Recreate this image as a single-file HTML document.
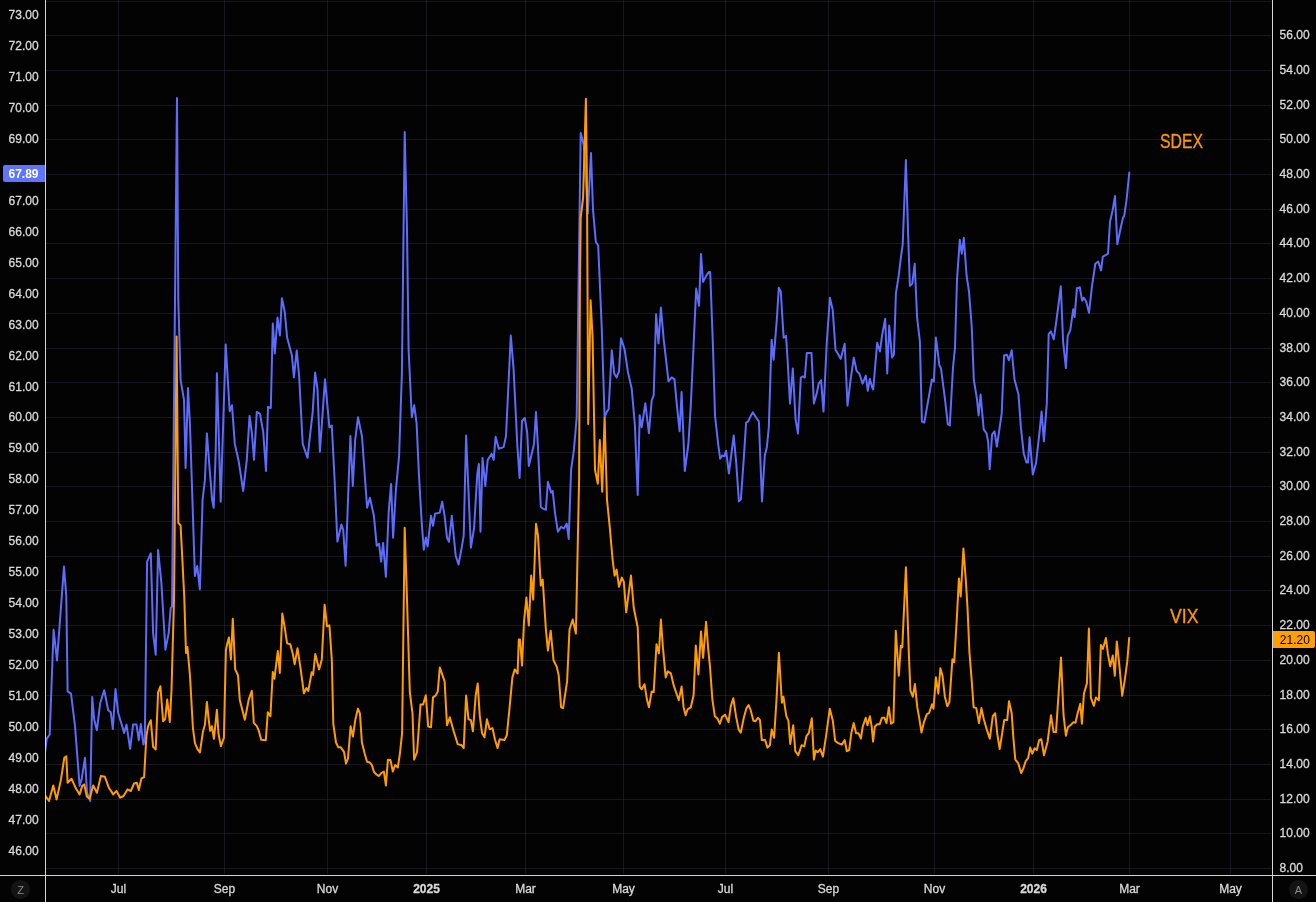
<!DOCTYPE html>
<html><head><meta charset="utf-8"><title>SDEX vs VIX</title>
<style>html,body{margin:0;padding:0;background:#030303;overflow:hidden;}svg{display:block;}</style>
</head><body>
<svg width="1316" height="902" viewBox="0 0 1316 902"><rect x="0" y="0" width="1316" height="902" fill="#030303"/>
<line x1="46" y1="868.5" x2="1271" y2="868.5" stroke="rgba(42,46,57,0.5)" stroke-width="1"/>
<line x1="46" y1="833.5" x2="1271" y2="833.5" stroke="rgba(42,46,57,0.5)" stroke-width="1"/>
<line x1="46" y1="799.5" x2="1271" y2="799.5" stroke="rgba(42,46,57,0.5)" stroke-width="1"/>
<line x1="46" y1="764.5" x2="1271" y2="764.5" stroke="rgba(42,46,57,0.5)" stroke-width="1"/>
<line x1="46" y1="729.5" x2="1271" y2="729.5" stroke="rgba(42,46,57,0.5)" stroke-width="1"/>
<line x1="46" y1="695.5" x2="1271" y2="695.5" stroke="rgba(42,46,57,0.5)" stroke-width="1"/>
<line x1="46" y1="660.5" x2="1271" y2="660.5" stroke="rgba(42,46,57,0.5)" stroke-width="1"/>
<line x1="46" y1="625.5" x2="1271" y2="625.5" stroke="rgba(42,46,57,0.5)" stroke-width="1"/>
<line x1="46" y1="590.5" x2="1271" y2="590.5" stroke="rgba(42,46,57,0.5)" stroke-width="1"/>
<line x1="46" y1="556.5" x2="1271" y2="556.5" stroke="rgba(42,46,57,0.5)" stroke-width="1"/>
<line x1="46" y1="521.5" x2="1271" y2="521.5" stroke="rgba(42,46,57,0.5)" stroke-width="1"/>
<line x1="46" y1="486.5" x2="1271" y2="486.5" stroke="rgba(42,46,57,0.5)" stroke-width="1"/>
<line x1="46" y1="452.5" x2="1271" y2="452.5" stroke="rgba(42,46,57,0.5)" stroke-width="1"/>
<line x1="46" y1="417.5" x2="1271" y2="417.5" stroke="rgba(42,46,57,0.5)" stroke-width="1"/>
<line x1="46" y1="382.5" x2="1271" y2="382.5" stroke="rgba(42,46,57,0.5)" stroke-width="1"/>
<line x1="46" y1="348.5" x2="1271" y2="348.5" stroke="rgba(42,46,57,0.5)" stroke-width="1"/>
<line x1="46" y1="313.5" x2="1271" y2="313.5" stroke="rgba(42,46,57,0.5)" stroke-width="1"/>
<line x1="46" y1="278.5" x2="1271" y2="278.5" stroke="rgba(42,46,57,0.5)" stroke-width="1"/>
<line x1="46" y1="243.5" x2="1271" y2="243.5" stroke="rgba(42,46,57,0.5)" stroke-width="1"/>
<line x1="46" y1="209.5" x2="1271" y2="209.5" stroke="rgba(42,46,57,0.5)" stroke-width="1"/>
<line x1="46" y1="174.5" x2="1271" y2="174.5" stroke="rgba(42,46,57,0.5)" stroke-width="1"/>
<line x1="46" y1="139.5" x2="1271" y2="139.5" stroke="rgba(42,46,57,0.5)" stroke-width="1"/>
<line x1="46" y1="105.5" x2="1271" y2="105.5" stroke="rgba(42,46,57,0.5)" stroke-width="1"/>
<line x1="46" y1="70.5" x2="1271" y2="70.5" stroke="rgba(42,46,57,0.5)" stroke-width="1"/>
<line x1="46" y1="35.5" x2="1271" y2="35.5" stroke="rgba(42,46,57,0.5)" stroke-width="1"/>
<line x1="46" y1="1.5" x2="1271" y2="1.5" stroke="rgba(42,46,57,0.5)" stroke-width="1"/>
<line x1="118.5" y1="0" x2="118.5" y2="874" stroke="rgba(42,46,57,0.5)" stroke-width="1"/>
<line x1="224.5" y1="0" x2="224.5" y2="874" stroke="rgba(42,46,57,0.5)" stroke-width="1"/>
<line x1="327.5" y1="0" x2="327.5" y2="874" stroke="rgba(42,46,57,0.5)" stroke-width="1"/>
<line x1="426.5" y1="0" x2="426.5" y2="874" stroke="rgba(42,46,57,0.5)" stroke-width="1"/>
<line x1="525.5" y1="0" x2="525.5" y2="874" stroke="rgba(42,46,57,0.5)" stroke-width="1"/>
<line x1="623.5" y1="0" x2="623.5" y2="874" stroke="rgba(42,46,57,0.5)" stroke-width="1"/>
<line x1="725.5" y1="0" x2="725.5" y2="874" stroke="rgba(42,46,57,0.5)" stroke-width="1"/>
<line x1="828.5" y1="0" x2="828.5" y2="874" stroke="rgba(42,46,57,0.5)" stroke-width="1"/>
<line x1="934.5" y1="0" x2="934.5" y2="874" stroke="rgba(42,46,57,0.5)" stroke-width="1"/>
<line x1="1033.5" y1="0" x2="1033.5" y2="874" stroke="rgba(42,46,57,0.5)" stroke-width="1"/>
<line x1="1129.5" y1="0" x2="1129.5" y2="874" stroke="rgba(42,46,57,0.5)" stroke-width="1"/>
<line x1="1230.5" y1="0" x2="1230.5" y2="874" stroke="rgba(42,46,57,0.5)" stroke-width="1"/>
<polyline points="45.0,752.8 46.7,738.9 49.7,734.5 53.6,629.8 57.0,660.4 64.0,566.6 66.3,596.5 67.6,691.3 71.0,693.6 75.0,726.0 79.6,786.0 81.6,779.4 85.0,757.8 87.0,792.7 90.2,801.0 92.2,697.0 94.2,719.6 96.9,730.2 100.2,703.0 104.2,690.3 108.2,710.3 110.8,712.3 112.8,729.0 115.5,689.0 118.2,713.0 122.2,726.2 124.1,732.9 126.5,724.6 130.1,748.8 133.1,724.6 136.5,724.6 138.8,740.2 140.8,724.0 143.4,744.5 144.8,739.5 147.1,561.6 150.8,553.3 153.1,633.1 155.7,654.7 158.1,550.0 161.4,583.2 165.4,649.7 168.7,633.1 170.7,608.2 172.0,606.5 177.0,98.0 178.3,300.0 180.6,379.8 184.0,399.8 185.6,468.0 188.0,388.1 189.9,423.0 194.9,576.0 197.2,566.0 199.9,589.3 202.6,499.5 204.9,479.8 206.9,433.5 209.7,469.8 212.1,499.7 213.7,507.7 215.7,451.8 216.9,373.3 220.7,501.7 225.7,344.6 229.7,411.3 232.0,405.3 234.8,443.9 238.8,461.8 243.2,491.0 246.8,459.8 249.6,415.9 252.0,433.9 254.0,459.8 256.8,411.9 260.0,413.9 263.2,431.9 266.0,471.0 268.0,407.0 270.8,408.0 272.8,323.5 274.8,353.4 277.5,317.5 279.9,335.4 281.9,298.3 284.7,311.5 287.1,337.4 291.9,355.4 293.9,377.3 296.7,350.6 299.1,375.3 302.7,443.9 307.5,457.8 312.7,411.9 315.1,372.5 317.5,389.3 319.9,451.8 325.0,379.3 329.4,427.5 331.8,425.5 334.6,479.8 337.4,541.6 341.4,524.5 343.2,529.8 345.6,565.7 348.0,499.8 350.4,436.0 352.8,485.9 355.2,440.0 358.0,417.3 362.0,436.5 367.1,507.8 369.9,497.8 373.9,515.8 376.7,545.7 379.1,543.7 381.1,561.7 383.1,542.9 385.9,576.8 388.7,511.8 391.1,483.9 393.1,537.7 395.9,489.8 399.1,455.9 401.9,373.4 404.7,132.0 407.0,229.7 408.6,349.5 411.8,417.3 414.2,405.3 416.6,423.3 419.0,475.9 421.8,523.8 423.8,549.7 425.9,537.5 427.6,546.5 431.0,515.8 433.0,525.8 435.0,513.8 439.8,512.6 442.2,501.8 444.6,515.8 447.0,537.7 449.0,541.7 451.8,515.8 455.7,555.7 458.5,564.5 461.7,547.7 463.7,535.7 466.1,435.5 468.5,491.8 470.9,547.7 474.1,527.8 477.3,473.9 478.9,463.9 480.5,531.8 482.5,457.9 485.3,485.9 487.7,459.9 491.7,453.9 493.7,459.9 495.6,436.8 498.8,448.7 503.6,447.1 506.0,436.0 510.8,335.5 513.6,369.4 517.3,445.0 519.6,478.0 522.0,421.0 524.8,418.0 527.2,432.5 528.8,465.9 531.2,455.9 534.0,443.9 536.0,412.0 538.0,447.9 540.8,507.0 543.1,508.6 545.9,509.8 547.9,481.8 551.1,492.6 552.7,491.0 555.1,513.7 557.9,531.7 561.1,526.9 563.9,528.5 566.7,523.7 568.7,538.9 571.1,469.8 573.9,449.9 576.7,417.3 580.7,133.1 582.3,138.7 583.9,145.9 587.8,213.7 591.0,153.1 593.0,209.7 595.8,241.7 598.2,245.6 601.8,329.5 604.6,417.3 607.0,411.3 608.6,409.3 611.8,350.2 614.2,373.4 616.6,377.4 619.0,371.4 621.0,338.2 624.6,349.4 627.8,371.4 631.8,389.3 634.9,425.3 637.7,495.0 639.7,415.3 641.7,427.2 645.3,403.3 648.9,433.2 651.7,400.5 653.7,395.3 656.1,314.3 658.5,343.4 660.9,307.5 663.7,339.4 668.5,381.3 671.7,377.4 674.5,379.4 676.9,405.3 679.6,431.2 681.6,392.1 684.8,471.0 688.4,444.0 690.8,405.3 693.6,345.4 696.2,288.6 699.0,305.8 701.0,253.9 703.0,281.9 706.2,275.9 709.0,271.9 710.2,271.9 713.0,347.7 715.0,415.6 718.1,443.5 720.1,458.7 722.1,455.5 724.5,456.3 726.1,450.7 728.9,473.4 731.7,451.5 733.7,435.5 736.1,461.5 738.9,501.4 740.9,499.4 743.7,459.5 746.1,422.7 748.1,421.5 750.9,415.6 752.9,412.4 756.1,417.6 758.9,421.5 762.0,501.4 764.8,455.5 766.8,447.5 768.8,427.5 771.6,339.7 773.6,359.7 776.8,319.8 778.8,287.8 780.8,291.8 783.6,337.7 786.0,335.7 787.6,359.7 790.0,403.6 792.8,368.5 795.6,419.6 798.0,433.5 800.8,377.6 802.8,376.4 804.8,377.6 806.8,352.9 811.5,352.9 813.9,403.6 816.7,393.6 818.7,383.6 821.1,380.4 823.5,411.6 826.7,343.7 829.9,297.8 832.7,309.8 835.5,349.7 837.9,353.7 840.7,358.9 844.7,343.7 847.5,405.6 850.6,379.6 853.8,357.7 856.6,370.9 859.4,373.7 862.6,383.6 865.8,375.6 867.8,390.8 869.8,378.8 872.2,387.6 873.2,389.4 877.2,342.7 880.0,351.5 882.0,335.6 885.2,318.8 887.2,373.5 889.2,325.6 892.0,357.5 893.9,354.7 895.9,293.7 898.7,275.7 901.1,255.7 902.7,244.6 905.9,160.0 908.3,239.8 909.9,285.7 912.3,283.7 914.7,263.7 917.1,317.6 919.9,341.5 921.9,421.4 924.3,422.6 929.1,395.4 931.9,379.5 933.9,381.5 935.9,337.6 939.4,365.5 941.0,368.3 945.0,399.4 947.8,424.2 949.8,425.4 953.0,367.5 955.0,347.5 957.0,279.7 959.8,239.8 961.8,253.7 963.8,237.8 966.6,275.7 969.0,291.7 971.8,327.6 973.8,379.5 977.0,399.4 978.6,415.4 980.6,394.6 983.7,429.4 986.5,433.3 988.1,441.3 989.7,469.3 992.1,434.5 994.5,431.3 996.9,446.5 1001.7,413.4 1004.1,355.5 1006.9,354.7 1008.9,360.3 1011.7,350.3 1014.5,379.5 1018.5,394.6 1020.9,427.4 1023.7,453.3 1026.4,462.5 1028.0,462.5 1029.6,437.3 1032.8,474.4 1036.0,463.3 1039.6,431.3 1041.6,411.4 1043.9,441.3 1046.8,403.4 1048.7,334.0 1051.0,331.5 1053.8,339.3 1056.7,318.5 1060.8,286.3 1063.1,341.6 1065.9,368.1 1067.7,335.8 1070.3,330.1 1073.2,309.3 1074.6,317.1 1076.9,288.3 1079.8,287.4 1082.1,300.7 1083.8,297.8 1086.1,301.3 1089.0,312.8 1091.9,286.8 1095.3,263.8 1098.2,261.5 1101.1,270.4 1102.8,256.6 1105.7,255.1 1108.0,253.7 1110.0,222.0 1112.6,210.4 1115.0,196.0 1117.3,244.2 1120.7,227.7 1123.0,217.7 1124.2,216.2 1126.5,200.4 1129.3,172.6" fill="none" stroke="#5d6cfa" stroke-width="2" stroke-linejoin="round" stroke-linecap="round"/>
<polyline points="45.0,795.4 49.0,801.0 53.3,785.4 56.6,799.4 61.0,779.4 64.3,757.8 66.3,756.2 67.6,782.8 71.6,778.8 75.6,787.8 79.6,794.4 82.2,786.1 84.2,784.4 86.9,796.7 89.6,798.7 93.2,785.4 96.9,792.7 100.9,776.1 104.9,776.8 108.9,787.8 113.2,794.4 116.5,791.0 120.2,797.7 123.5,796.0 127.5,789.4 130.8,791.0 134.1,783.4 136.8,782.8 138.8,790.0 141.4,778.4 144.1,777.1 146.4,736.2 148.1,726.2 150.8,720.2 153.1,746.8 155.7,749.5 158.1,692.3 160.4,686.3 163.1,721.2 165.2,719.0 167.2,699.5 169.8,722.0 171.5,690.0 174.0,600.0 176.6,336.6 178.3,522.8 180.6,525.5 184.2,595.5 186.0,653.0 187.4,647.0 190.0,676.0 192.9,727.8 194.9,742.8 197.3,748.8 199.9,752.4 202.9,731.8 204.9,724.8 206.9,701.9 208.5,717.8 210.1,730.8 211.9,726.2 213.9,738.8 216.9,709.8 218.5,733.8 220.9,746.2 223.9,737.8 225.9,650.0 227.3,643.4 228.9,637.4 230.9,659.4 232.8,618.7 235.2,669.4 238.0,675.3 239.8,699.9 244.8,719.8 248.8,699.3 251.8,690.9 253.8,722.8 256.8,726.2 258.8,730.8 261.2,739.8 265.8,740.2 267.8,712.2 270.4,716.2 272.8,671.9 274.4,678.9 277.8,651.0 279.8,672.9 282.3,613.5 284.7,627.4 287.1,643.4 290.3,644.2 292.7,653.4 294.7,664.2 297.5,648.2 300.7,669.4 303.9,693.3 306.5,688.0 308.3,690.9 311.7,672.3 313.1,674.9 315.3,654.0 319.1,669.4 321.8,659.4 324.6,604.7 327.0,626.2 329.4,625.4 331.8,659.4 333.3,723.9 336.0,742.5 338.2,747.2 340.6,747.2 344.0,751.8 346.0,763.5 348.0,758.5 350.6,726.3 352.9,736.5 355.3,719.9 357.9,708.6 359.9,713.3 361.9,742.5 364.6,753.2 367.0,761.8 369.9,762.5 371.9,765.1 373.9,771.8 376.6,774.7 379.0,776.0 381.2,773.1 383.9,771.5 385.9,785.4 387.9,759.8 390.5,760.1 392.8,771.5 395.2,765.1 397.8,767.5 399.8,754.5 402.1,733.2 404.7,527.8 407.0,599.6 409.8,692.0 412.5,713.3 414.1,759.6 417.1,751.8 420.5,704.6 423.1,704.6 425.8,695.3 428.2,726.6 431.0,727.3 433.0,697.4 435.8,695.4 437.8,691.4 439.8,667.4 444.6,681.4 447.0,725.3 449.8,717.3 453.7,731.3 457.7,744.1 461.7,745.3 463.7,748.1 466.1,695.4 468.5,719.3 470.9,720.1 472.9,731.3 475.7,695.4 477.7,683.4 479.7,715.3 482.1,733.3 484.5,737.3 486.9,719.3 489.7,729.3 492.5,728.1 494.9,739.3 497.6,748.1 499.6,739.3 504.4,740.1 506.8,735.3 509.6,707.4 512.4,677.4 514.8,669.4 517.6,673.4 518.8,639.5 520.0,639.5 522.0,665.4 524.0,621.5 526.4,597.6 528.8,625.5 531.2,575.6 533.2,599.6 536.0,523.7 538.0,535.7 540.8,585.6 542.7,579.6 545.9,629.5 547.9,650.6 550.7,630.7 553.5,660.2 556.7,666.6 558.7,675.4 561.1,707.3 563.1,708.1 567.1,681.4 569.5,629.5 572.7,619.5 575.9,633.5 579.1,479.8 579.9,289.6 580.7,217.7 583.1,197.8 584.7,141.9 585.9,98.8 587.0,189.8 588.2,424.0 590.6,300.3 592.6,337.4 595.0,469.8 597.8,483.8 599.8,439.9 602.2,491.8 604.6,418.0 607.0,499.8 609.8,527.7 612.6,559.6 614.6,575.6 616.6,569.6 619.0,586.8 621.8,577.6 623.8,581.6 626.2,612.3 631.0,575.6 633.7,607.5 637.7,627.5 639.7,686.6 641.7,689.3 644.5,684.2 646.9,699.3 648.9,707.3 651.7,691.4 653.7,692.1 656.5,644.3 658.9,653.4 660.9,619.5 662.9,647.4 665.7,677.4 667.7,671.4 670.9,673.4 673.7,685.4 676.4,693.3 678.8,700.1 681.6,686.6 683.6,707.3 685.6,715.3 687.6,709.3 690.8,707.3 693.6,695.3 695.8,645.5 698.4,674.4 701.0,631.4 703.1,657.8 706.1,621.8 708.2,648.8 710.0,666.8 712.4,699.7 714.8,716.2 717.5,718.6 719.9,723.7 722.0,717.1 725.0,714.7 728.5,722.2 730.9,705.7 733.3,698.2 736.0,716.2 738.7,729.6 740.8,732.6 743.8,717.7 746.5,708.1 748.6,705.1 750.7,710.2 753.4,720.7 755.5,721.3 757.9,717.7 760.0,720.1 761.8,740.1 765.1,740.1 767.5,747.6 769.9,745.2 771.7,729.6 774.1,737.7 776.5,699.7 778.9,652.7 780.7,683.2 781.9,702.7 783.4,696.7 786.3,716.2 788.4,720.7 790.2,744.0 793.2,725.2 795.3,751.2 798.3,755.1 801.6,745.2 804.3,746.4 806.4,736.2 808.8,733.2 811.8,718.3 813.9,759.6 815.7,750.6 817.8,752.1 820.2,749.1 822.9,756.6 825.9,737.1 829.8,708.7 832.8,720.7 835.2,741.0 838.2,743.1 841.8,744.6 844.7,740.1 846.8,751.2 849.2,750.0 851.3,733.2 853.7,723.1 856.1,733.2 858.5,733.2 860.9,738.6 862.7,726.7 865.7,717.7 867.5,725.2 869.9,716.2 871.7,726.7 873.1,741.6 874.8,726.7 877.2,724.3 879.6,724.3 882.0,717.7 884.4,717.7 886.5,723.1 888.9,707.2 891.0,723.7 893.4,722.2 895.8,630.8 898.8,675.7 900.8,645.8 902.3,647.3 905.9,567.3 908.9,654.8 910.4,690.7 912.8,696.7 914.9,684.1 917.3,707.2 919.4,719.2 921.5,732.6 923.9,722.2 926.9,714.1 929.0,713.2 932.0,704.2 933.5,708.7 935.9,677.2 938.3,693.7 940.4,668.2 942.5,675.7 944.9,696.7 947.3,706.3 949.4,702.1 952.4,659.3 954.2,662.3 956.9,617.3 958.9,578.4 960.7,596.4 963.4,548.5 965.8,579.9 967.6,609.8 969.4,651.8 971.8,681.7 973.6,707.2 976.3,708.1 979.0,723.1 981.4,708.1 983.8,719.2 986.8,729.6 989.8,738.6 992.8,716.2 995.2,713.2 997.3,734.1 999.7,749.1 1001.8,735.6 1004.2,720.1 1007.2,720.1 1009.0,701.2 1011.7,713.2 1013.2,735.6 1015.3,759.6 1018.2,763.2 1021.2,773.1 1023.3,768.6 1025.7,761.1 1028.1,758.1 1030.2,747.6 1032.3,753.6 1034.7,748.2 1036.8,750.0 1039.2,740.1 1041.3,739.2 1044.0,755.3 1047.6,741.7 1051.0,715.3 1053.6,732.1 1056.0,732.1 1061.0,657.5 1063.5,714.7 1065.9,735.7 1067.9,727.3 1070.9,724.7 1073.5,722.1 1075.5,722.7 1077.5,713.7 1080.3,703.8 1081.9,723.7 1083.9,693.8 1086.9,683.4 1088.9,628.5 1090.9,697.8 1093.9,705.8 1095.9,697.4 1098.9,700.2 1100.9,644.9 1102.9,648.9 1105.9,637.9 1107.9,653.9 1110.2,666.3 1112.8,655.5 1114.8,675.8 1116.8,641.5 1119.4,665.9 1122.2,695.8 1124.8,679.8 1127.2,661.9 1129.2,637.9" fill="none" stroke="#ff9d00" stroke-width="2" stroke-linejoin="round" stroke-linecap="round"/>
<rect x="0" y="0" width="45" height="902" fill="#030303"/>
<rect x="1273" y="0" width="43" height="902" fill="#030303"/>
<rect x="0" y="876" width="1316" height="26" fill="#030303"/>
<line x1="45.5" y1="0" x2="45.5" y2="902" stroke="#d6d6d6" stroke-width="1"/>
<line x1="1272.5" y1="0" x2="1272.5" y2="902" stroke="#d6d6d6" stroke-width="1"/>
<line x1="0" y1="875.5" x2="1316" y2="875.5" stroke="#d6d6d6" stroke-width="1"/>
<g fill="#d9d9d9" stroke="#d9d9d9" stroke-width="0.3" font-family="'Liberation Sans', Arial, sans-serif" font-size="12"><text x="38.6" y="19.2" text-anchor="end">73.00</text><text x="38.6" y="50.1" text-anchor="end">72.00</text><text x="38.6" y="81.1" text-anchor="end">71.00</text><text x="38.6" y="112.0" text-anchor="end">70.00</text><text x="38.6" y="143.0" text-anchor="end">69.00</text><text x="38.6" y="204.8" text-anchor="end">67.00</text><text x="38.6" y="235.8" text-anchor="end">66.00</text><text x="38.6" y="266.7" text-anchor="end">65.00</text><text x="38.6" y="297.7" text-anchor="end">64.00</text><text x="38.6" y="328.6" text-anchor="end">63.00</text><text x="38.6" y="359.5" text-anchor="end">62.00</text><text x="38.6" y="390.5" text-anchor="end">61.00</text><text x="38.6" y="421.4" text-anchor="end">60.00</text><text x="38.6" y="452.4" text-anchor="end">59.00</text><text x="38.6" y="483.3" text-anchor="end">58.00</text><text x="38.6" y="514.2" text-anchor="end">57.00</text><text x="38.6" y="545.2" text-anchor="end">56.00</text><text x="38.6" y="576.1" text-anchor="end">55.00</text><text x="38.6" y="607.1" text-anchor="end">54.00</text><text x="38.6" y="638.0" text-anchor="end">53.00</text><text x="38.6" y="668.9" text-anchor="end">52.00</text><text x="38.6" y="699.9" text-anchor="end">51.00</text><text x="38.6" y="730.8" text-anchor="end">50.00</text><text x="38.6" y="761.8" text-anchor="end">49.00</text><text x="38.6" y="792.7" text-anchor="end">48.00</text><text x="38.6" y="823.6" text-anchor="end">47.00</text><text x="38.6" y="854.6" text-anchor="end">46.00</text><text x="1279.6" y="872.0">8.00</text><text x="1279.6" y="837.0">10.00</text><text x="1279.6" y="803.0">12.00</text><text x="1279.6" y="768.0">14.00</text><text x="1279.6" y="733.0">16.00</text><text x="1279.6" y="699.0">18.00</text><text x="1279.6" y="664.0">20.00</text><text x="1279.6" y="629.0">22.00</text><text x="1279.6" y="594.0">24.00</text><text x="1279.6" y="560.0">26.00</text><text x="1279.6" y="525.0">28.00</text><text x="1279.6" y="490.0">30.00</text><text x="1279.6" y="456.0">32.00</text><text x="1279.6" y="421.0">34.00</text><text x="1279.6" y="386.0">36.00</text><text x="1279.6" y="352.0">38.00</text><text x="1279.6" y="317.0">40.00</text><text x="1279.6" y="282.0">42.00</text><text x="1279.6" y="247.0">44.00</text><text x="1279.6" y="213.0">46.00</text><text x="1279.6" y="178.0">48.00</text><text x="1279.6" y="143.0">50.00</text><text x="1279.6" y="109.0">52.00</text><text x="1279.6" y="74.0">54.00</text><text x="1279.6" y="39.0">56.00</text><text x="118.5" y="893" text-anchor="middle">Jul</text><text x="224.5" y="893" text-anchor="middle">Sep</text><text x="327.5" y="893" text-anchor="middle">Nov</text><text x="426.5" y="893" text-anchor="middle" font-weight="bold">2025</text><text x="525.5" y="893" text-anchor="middle">Mar</text><text x="623.5" y="893" text-anchor="middle">May</text><text x="725.5" y="893" text-anchor="middle">Jul</text><text x="828.5" y="893" text-anchor="middle">Sep</text><text x="934.5" y="893" text-anchor="middle">Nov</text><text x="1033.5" y="893" text-anchor="middle" font-weight="bold">2026</text><text x="1129.5" y="893" text-anchor="middle">Mar</text><text x="1230.5" y="893" text-anchor="middle">May</text></g>
<path d="M5,165 H45 V182 H5 Q3,182 3,180 V167 Q3,165 5,165 Z" fill="#5f74ff"/>
<text x="23.5" y="178" text-anchor="middle" fill="#ffffff" font-family="'Liberation Sans', Arial, sans-serif" font-size="12" font-weight="bold">67.89</text>
<path d="M1273,631 H1313 Q1315,631 1315,633 V646 Q1315,648 1313,648 H1273 Z" fill="#ffa000"/>
<text x="1294.8" y="644" text-anchor="middle" fill="#000000" font-family="'Liberation Sans', Arial, sans-serif" font-size="12">21.20</text>
<text x="1160" y="148" fill="#ff9800" stroke="#ff9800" stroke-width="0.35" font-family="'Liberation Sans', Arial, sans-serif" font-size="20" textLength="43" lengthAdjust="spacingAndGlyphs">SDEX</text>
<text x="1170" y="623" fill="#ff9800" stroke="#ff9800" stroke-width="0.35" font-family="'Liberation Sans', Arial, sans-serif" font-size="20" textLength="28.5" lengthAdjust="spacingAndGlyphs">VIX</text>
<circle cx="20.5" cy="889.5" r="9.5" fill="#141414"/>
<text x="20.5" y="894" text-anchor="middle" fill="#8c8c8c" font-family="'Liberation Sans', Arial, sans-serif" font-size="11">Z</text>
<circle cx="1298.5" cy="889.5" r="9.5" fill="#141414"/>
<text x="1298.5" y="894" text-anchor="middle" fill="#8c8c8c" font-family="'Liberation Sans', Arial, sans-serif" font-size="11">A</text></svg>
</body></html>
